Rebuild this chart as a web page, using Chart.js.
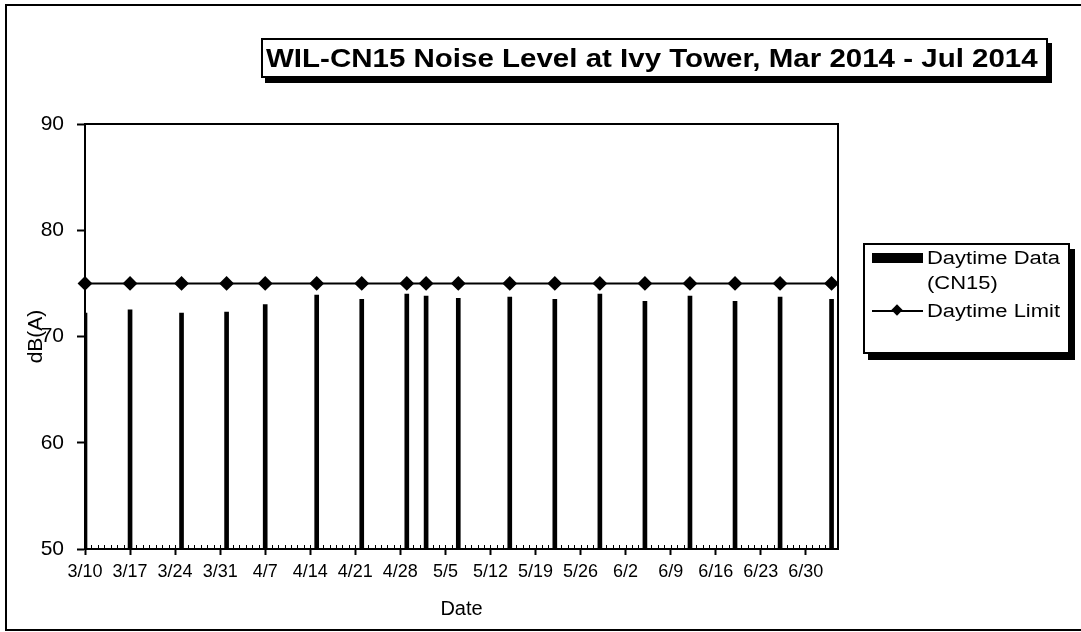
<!DOCTYPE html>
<html>
<head>
<meta charset="utf-8">
<script src="https://cdn.jsdelivr.net/npm/chart.js@4.4.1/dist/chart.umd.min.js"></script>
<style>
html,body{margin:0;padding:0;background:#fff;width:1081px;height:632px;overflow:hidden;font-family:"Liberation Sans",Arial,sans-serif;}
#frame{position:absolute;left:5px;top:4px;width:1100px;height:627px;border:2px solid #000;box-sizing:border-box;}
#c{position:absolute;left:0;top:0;}
#title{position:absolute;left:261px;top:38px;width:787px;height:40px;border:2px solid #000;box-sizing:border-box;background:#fff;box-shadow:4px 5px 0 #000;}
#title span{position:absolute;left:3px;top:1px;font-weight:bold;font-size:25px;line-height:34px;white-space:nowrap;transform:scaleX(1.18);transform-origin:0 50%;}
#legend{position:absolute;left:863px;top:243px;width:207px;height:111px;border:2px solid #000;box-sizing:border-box;background:#fff;box-shadow:5px 6px 0 #000;}
#legend .t{position:absolute;left:62px;font-size:18px;line-height:22px;white-space:nowrap;transform:scaleX(1.22);transform-origin:0 50%;}
#legend .sw{position:absolute;left:7px;top:8px;width:51px;height:10px;background:#000;}
#legend .ln{position:absolute;left:7px;top:65px;width:51px;height:2px;background:#000;}
#legend .dm{position:absolute;left:28px;top:61px;width:8px;height:8px;background:#000;transform:rotate(45deg);}
</style>
</head>
<body>
<div id="frame"></div>
<canvas id="c" width="1081" height="632"></canvas>
<div id="title"><span>WIL-CN15 Noise Level at Ivy Tower, Mar 2014 - Jul 2014</span></div>
<div id="legend">
  <div class="sw"></div>
  <div class="t" style="top:2px">Daytime Data</div>
  <div class="t" style="top:27px">(CN15)</div>
  <div class="ln"></div><div class="dm"></div>
  <div class="t" style="top:55px">Daytime Limit</div>
</div>
<script>
// ---- data ----
const startDate = '2014-03-10';
const endDate = '2014-07-05';
const sampleDates = ['2014-03-10','2014-03-17','2014-03-25','2014-04-01','2014-04-07','2014-04-15',
  '2014-04-22','2014-04-29','2014-05-02','2014-05-07','2014-05-15','2014-05-22','2014-05-29',
  '2014-06-05','2014-06-12','2014-06-19','2014-06-26','2014-07-04'];
const daytimeData = [72.2,72.5,72.2,72.3,73.0,73.9,73.5,74.0,73.8,73.6,73.7,73.5,74.0,73.3,73.8,73.3,73.7,73.5];
const daytimeLimit = [75,75,75,75,75,75,75,75,75,75,75,75,75,75,75,75,75,75];
const xTickLabels = ['3/10','3/17','3/24','3/31','4/7','4/14','4/21','4/28','5/5','5/12','5/19','5/26','6/2','6/9','6/16','6/23','6/30'];
const yTickValues = [50,60,70,80,90];
const seriesNames = ['Daytime Data (CN15)','Daytime Limit'];

// ---- helpers ----
const DAY = 86400000;
function isoDay(s){ const p = s.split('-').map(Number); return Date.UTC(p[0], p[1]-1, p[2]); }
const t0 = isoDay(startDate);
function dayOf(s){ return (isoDay(s) - t0) / DAY; }
function tickDay(lbl){ const p = lbl.split('/').map(Number); return (Date.UTC(2014, p[0]-1, p[1]) - t0) / DAY; }
const tickMap = {};
xTickLabels.forEach(l => { tickMap[tickDay(l)] = l; });

const barPts = sampleDates.map((d,i) => ({x: dayOf(d), y: daytimeData[i]}));
const limPts = sampleDates.map((d,i) => ({x: dayOf(d), y: daytimeLimit[i]}));

const framePlugin = {
  id: 'plotFrame',
  afterDatasetsDraw(chart){
    const {ctx, chartArea: a} = chart;
    const xs = chart.scales.x;
    ctx.save();
    ctx.fillStyle = '#000';
    for (let d = Math.ceil(xs.min); d <= xs.max; d++) {
      const px = Math.round(xs.getPixelForValue(d));
      ctx.fillRect(px, a.bottom - 4, 1, 3);
    }
    ctx.strokeStyle = '#000';
    ctx.lineWidth = 2;
    ctx.strokeRect(a.left, a.top, a.right - a.left, a.bottom - a.top);
    ctx.restore();
  }
};

Chart.defaults.font.family = '"Liberation Sans", Arial, sans-serif';
Chart.defaults.color = '#000';

new Chart(document.getElementById('c'), {
  type: 'bar',
  data: {
    datasets: [
      { type: 'line', label: seriesNames[1], data: limPts, borderColor: '#000', backgroundColor: '#000',
        borderWidth: 2, pointStyle: 'rectRot', pointRadius: 6, pointHoverRadius: 6, clip: 10, order: 0 },
      { type: 'bar', label: seriesNames[0], data: barPts, backgroundColor: '#000', borderWidth: 0,
        barThickness: 4, order: 1 }
    ]
  },
  plugins: [framePlugin],
  options: {
    responsive: false,
    animation: false,
    events: [],
    layout: { padding: { left: 0, top: 124, right: 243, bottom: 0 } },
    plugins: { legend: { display: false }, title: { display: false }, tooltip: { enabled: false } },
    scales: {
      x: {
        type: 'linear',
        offset: false,
        min: 0,
        max: dayOf(endDate),
        afterFit(s){ s.height = 83; },
        afterBuildTicks(s){ s.ticks = xTickLabels.map(l => ({value: tickDay(l)})); },
        ticks: { autoSkip: false, maxRotation: 0, padding: 6, font: { size: 18 },
                 callback: v => tickMap[v] || '' },
        grid: { offset: false, drawOnChartArea: false, tickLength: 6, tickColor: '#000', tickWidth: 2 },
        border: { display: true, color: '#000', width: 2 },
        title: { display: true, text: 'Date', font: { size: 20 }, padding: { top: 0, bottom: 11 } }
      },
      y: {
        min: 50,
        max: 90,
        afterFit(s){ s.width = 85; },
        afterBuildTicks(s){ s.ticks = yTickValues.map(v => ({value: v})); },
        ticks: { padding: 13, font: { size: 21 } },
        grid: { drawOnChartArea: false, tickLength: 8, tickColor: '#000', tickWidth: 2 },
        border: { display: true, color: '#000', width: 2 },
        title: { display: true, text: 'dB(A)', font: { size: 21 }, padding: { top: 24, bottom: 0 } }
      }
    }
  }
});
</script>
</body>
</html>
